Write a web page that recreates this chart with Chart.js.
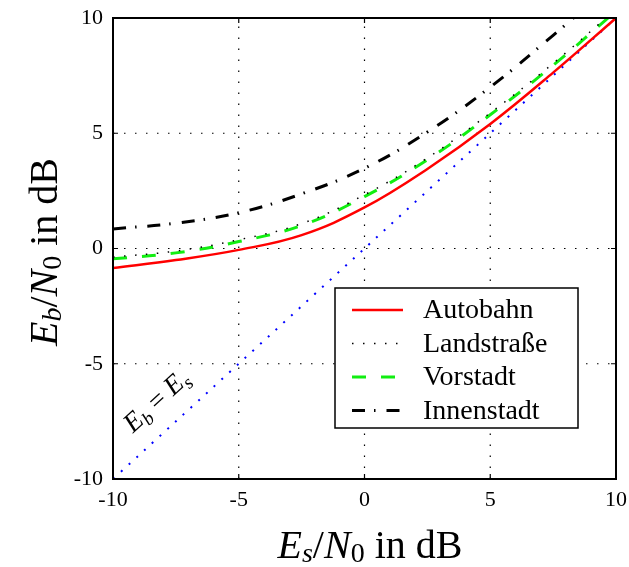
<!DOCTYPE html>
<html>
<head>
<meta charset="utf-8">
<script src="https://cdn.jsdelivr.net/npm/chart.js@4/dist/chart.umd.min.js"></script>
<style>
  html, body { margin: 0; padding: 0; background: #fff; }
  #wrap { width: 629px; height: 567px; }
</style>
</head>
<body>
<div id="wrap"><canvas id="ebChart" width="629" height="567"></canvas></div>
<script>
// Es/N0 in dB (x axis)
const esN0 = [-10, -7.5, -5, -2.5, 0, 2.5, 5, 7.5, 10];
// Eb/N0 in dB for each environment
const autobahn    = [-0.85, -0.5, -0.06, 0.58, 1.78, 3.45, 5.4, 7.63, 10.0];
const landstrasse = [-0.37, -0.11, 0.38, 1.08, 2.33, 3.93, 5.88, 8.03, 10.38];
const vorstadt    = [-0.45, -0.19, 0.30, 1.00, 2.25, 3.85, 5.80, 7.95, 10.30];
const innenstadt  = [0.85, 1.10, 1.55, 2.37, 3.48, 5.05, 7.00, 9.25, 11.6];
// reference line Eb = Es
const refX = [-10, 10];
const refY = [-10, 10];
const tickValues = [-10, -5, 0, 5, 10];

const serif = '"Liberation Serif", "DejaVu Serif", serif';

function pts(xs, ys) {
  return xs.map((v, i) => ({ x: v, y: ys[i] }));
}

// draws text like E_s/N_0 with italic letters and subscripts, centred on 0
function drawMath(ctx, parts, size) {
  let w = 0;
  parts.forEach(p => {
    const s = p.sub ? size * 0.7 : size;
    ctx.font = (p.it ? 'italic ' : '') + s + 'px ' + serif;
    p.w = ctx.measureText(p.t).width;
    w += p.w;
  });
  let cx = -w / 2;
  parts.forEach(p => {
    const s = p.sub ? size * 0.7 : size;
    ctx.font = (p.it ? 'italic ' : '') + s + 'px ' + serif;
    ctx.fillText(p.t, cx, p.sub ? size * 0.2 : 0);
    cx += p.w;
  });
}

const frame = {
  id: 'frame',
  beforeDatasetsDraw(chart) {
    const { ctx, chartArea: a, scales: { x, y } } = chart;
    ctx.save();
    ctx.strokeStyle = '#000';
    ctx.lineWidth = 1.2;
    ctx.setLineDash([1.5, 9.5]);
    tickValues.slice(1, -1).forEach(v => {
      const px = x.getPixelForValue(v);
      ctx.beginPath(); ctx.moveTo(px, a.bottom); ctx.lineTo(px, a.top); ctx.stroke();
      const py = y.getPixelForValue(v);
      ctx.beginPath(); ctx.moveTo(a.left, py); ctx.lineTo(a.right, py); ctx.stroke();
    });
    ctx.restore();
  },
  afterDatasetsDraw(chart) {
    const { ctx, chartArea: a, scales: { x, y } } = chart;
    ctx.save();
    // box and inward ticks
    ctx.strokeStyle = '#000';
    ctx.lineWidth = 2;
    ctx.strokeRect(a.left, a.top, a.right - a.left, a.bottom - a.top);
    ctx.lineWidth = 1.2;
    tickValues.slice(1, -1).forEach(v => {
      const px = x.getPixelForValue(v);
      const py = y.getPixelForValue(v);
      ctx.beginPath();
      ctx.moveTo(px, a.bottom); ctx.lineTo(px, a.bottom - 5);
      ctx.moveTo(px, a.top); ctx.lineTo(px, a.top + 5);
      ctx.moveTo(a.left, py); ctx.lineTo(a.left + 5, py);
      ctx.moveTo(a.right, py); ctx.lineTo(a.right - 5, py);
      ctx.stroke();
    });

    // legend
    const lx = 335, ly = 288, lw = 243, lh = 140;
    ctx.fillStyle = '#fff';
    ctx.fillRect(lx, ly, lw, lh);
    ctx.lineWidth = 1.5;
    ctx.strokeRect(lx, ly, lw, lh);
    ctx.textBaseline = 'middle';
    ctx.textAlign = 'left';
    chart.data.datasets.forEach((ds, i) => {
      if (ds.hideInLegend) return;
      const ry = ly + 22 + i * 33.5;
      ctx.strokeStyle = ds.borderColor;
      ctx.lineWidth = ds.borderWidth;
      ctx.setLineDash(ds.borderDash || []);
      ctx.beginPath(); ctx.moveTo(lx + 17, ry); ctx.lineTo(lx + 68, ry); ctx.stroke();
      ctx.setLineDash([]);
      ctx.fillStyle = '#000';
      ctx.font = '28px ' + serif;
      ctx.fillText(ds.label, lx + 88, ry + 1);
    });

    // Eb = Es annotation along the reference line
    const ang = Math.atan2(y.getPixelForValue(0) - y.getPixelForValue(10), x.getPixelForValue(10) - x.getPixelForValue(0));
    ctx.save();
    ctx.translate(162, 407);
    ctx.rotate(-ang);
    ctx.textAlign = 'left';
    ctx.textBaseline = 'alphabetic';
    ctx.fillStyle = '#000';
    drawMath(ctx, [
      { t: 'E', it: true }, { t: 'b', it: true, sub: true },
      { t: ' = ' }, { t: 'E', it: true }, { t: 's', it: true, sub: true }
    ], 27);
    ctx.restore();

    // axis titles
    ctx.save();
    ctx.translate(370, 547);
    drawMath(ctx, [
      { t: 'E', it: true }, { t: 's', it: true, sub: true }, { t: '/' },
      { t: 'N', it: true }, { t: '0', sub: true }, { t: ' in dB' }
    ], 40);
    ctx.restore();
    ctx.save();
    ctx.translate(46, 252);
    ctx.rotate(-Math.PI / 2);
    drawMath(ctx, [
      { t: 'E', it: true }, { t: 'b', it: true, sub: true }, { t: '/' },
      { t: 'N', it: true }, { t: '0', sub: true }, { t: ' in dB' }
    ], 40);
    ctx.restore();
    ctx.restore();
  }
};

const datasets = [
  { label: 'Autobahn', data: pts(esN0, autobahn), borderColor: '#ff0000', borderWidth: 2.5, borderDash: [] },
  { label: 'Landstraße', data: pts(esN0, landstrasse), borderColor: '#000000', borderWidth: 1.5, borderDash: [1.5, 9.5] },
  { label: 'Vorstadt', data: pts(esN0, vorstadt), borderColor: '#11ee11', borderWidth: 3, borderDash: [14, 15] },
  { label: 'Innenstadt', data: pts(esN0, innenstadt), borderColor: '#000000', borderWidth: 3, borderDash: [13, 9, 1.5, 11] },
  { label: 'Eb = Es', data: pts(refX, refY), borderColor: '#0000ff', borderWidth: 2, borderDash: [2, 8.5], hideInLegend: true }
];

const config = {
  type: 'line',
  data: { datasets: datasets },
  plugins: [frame],
  options: {
    responsive: false,
    animation: false,
    layout: { padding: { left: 0, top: 18, right: 13, bottom: 0 } },
    elements: { point: { radius: 0 }, line: { tension: 0.4, fill: false } },
    plugins: { legend: { display: false }, tooltip: { enabled: false } },
    scales: {
      x: {
        type: 'linear', min: -10, max: 10,
        afterFit: s => { s.height = 88; s.paddingLeft = 0; s.paddingRight = 0; },
        afterBuildTicks: s => { s.ticks = tickValues.map(v => ({ value: v })); },
        grid: { display: false, drawTicks: false },
        border: { display: false },
        ticks: { color: '#000', padding: 8, maxRotation: 0, font: { family: serif, size: 22 } }
      },
      y: {
        type: 'linear', min: -10, max: 10,
        afterFit: s => { s.width = 113; s.paddingTop = 0; s.paddingBottom = 0; },
        afterBuildTicks: s => { s.ticks = tickValues.map(v => ({ value: v })); },
        grid: { display: false, drawTicks: false },
        border: { display: false },
        ticks: { color: '#000', padding: 10, font: { family: serif, size: 22 } }
      }
    }
  }
};

const ebChart = new Chart(document.getElementById('ebChart').getContext('2d'), config);
</script>
</body>
</html>
